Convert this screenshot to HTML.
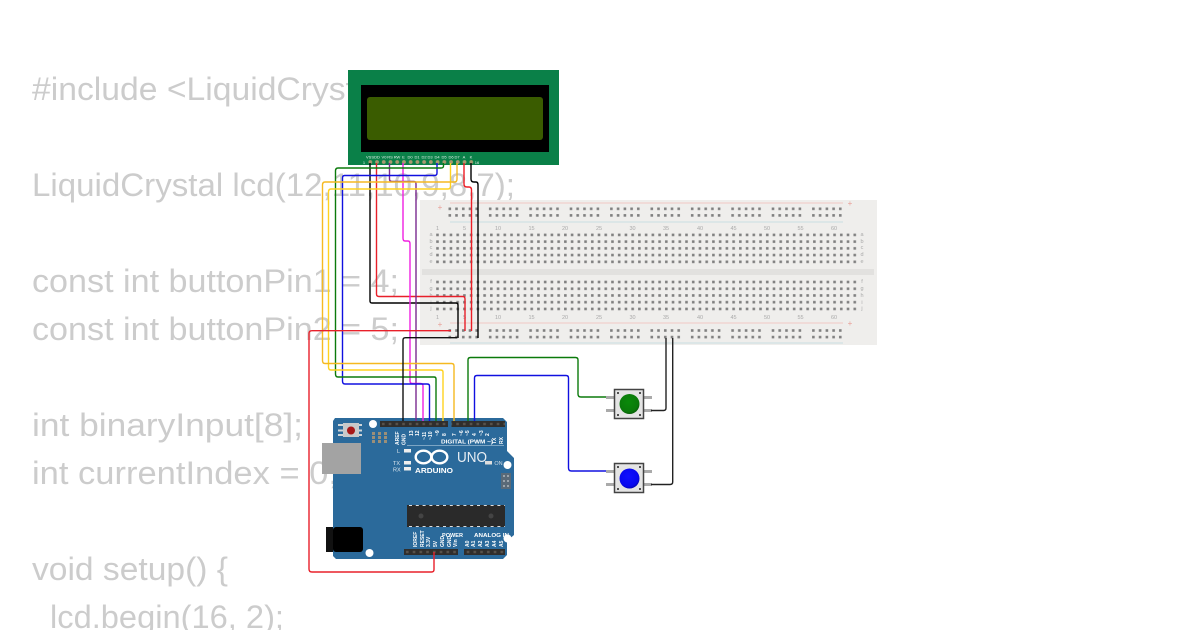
<!DOCTYPE html>
<html><head><meta charset="utf-8"><style>
html,body{margin:0;padding:0;background:#fff;width:1200px;height:630px;overflow:hidden}
svg{display:block}
.c{font-family:"Liberation Sans",sans-serif;font-size:32px;fill:#cccccc}
.t{font-family:"Liberation Sans",sans-serif;fill:#fff;font-weight:bold}
.bl{font-family:"Liberation Sans",sans-serif;font-size:5.5px;fill:#a9a9a9;text-anchor:middle}
.lp{font-family:"Liberation Sans",sans-serif;font-size:4px;fill:#e8f2ec;text-anchor:middle}
path.w{fill:none;stroke-width:1.4;stroke-linejoin:round}
</style></head><body>
<svg width="1200" height="630" viewBox="0 0 1200 630" xmlns="http://www.w3.org/2000/svg">
<defs>
<pattern id="grid" x="434.7" y="232" width="6.73" height="6.73" patternUnits="userSpaceOnUse"><rect x="1.5" y="1.6" width="2.6" height="2.6" fill="#808080"/></pattern>
<pattern id="rail" x="448.5" y="206.5" width="40.4" height="6.6" patternUnits="userSpaceOnUse">
<rect x="0" y="1" width="2.6" height="2.6" fill="#808080"/><rect x="6.7" y="1" width="2.6" height="2.6" fill="#808080"/><rect x="13.5" y="1" width="2.6" height="2.6" fill="#808080"/><rect x="20.2" y="1" width="2.6" height="2.6" fill="#808080"/><rect x="26.9" y="1" width="2.6" height="2.6" fill="#808080"/></pattern>
<pattern id="rail2" x="448.5" y="328.2" width="40.4" height="6.6" patternUnits="userSpaceOnUse">
<rect x="0" y="1" width="2.6" height="2.6" fill="#808080"/><rect x="6.7" y="1" width="2.6" height="2.6" fill="#808080"/><rect x="13.5" y="1" width="2.6" height="2.6" fill="#808080"/><rect x="20.2" y="1" width="2.6" height="2.6" fill="#808080"/><rect x="26.9" y="1" width="2.6" height="2.6" fill="#808080"/></pattern>
<pattern id="hdr" x="380" y="421" width="6.75" height="6" patternUnits="userSpaceOnUse"><rect width="6.75" height="6" fill="#302e2c"/><rect x="2" y="1.8" width="2.6" height="2.4" fill="#57524c"/></pattern>
<pattern id="hdr2" x="404" y="549" width="6.75" height="6" patternUnits="userSpaceOnUse"><rect width="6.75" height="6" fill="#302e2c"/><rect x="2" y="1.8" width="2.6" height="2.4" fill="#57524c"/></pattern>
<pattern id="pins" x="367" y="159" width="6.73" height="6" patternUnits="userSpaceOnUse"><circle cx="3.3" cy="3" r="1.9" fill="#a89a70"/></pattern>
<radialGradient id="gb" cx=".45" cy=".4" r=".65"><stop offset="0" stop-color="#0a8a0a"/><stop offset=".75" stop-color="#0a7a0a"/><stop offset="1" stop-color="#065206"/></radialGradient>
<radialGradient id="bb" cx=".45" cy=".4" r=".65"><stop offset="0" stop-color="#1010ff"/><stop offset=".75" stop-color="#0808ee"/><stop offset="1" stop-color="#0404a0"/></radialGradient>
</defs>

<!-- code text -->
<text class="c" x="32" y="100" textLength="397" lengthAdjust="spacingAndGlyphs">#include &lt;LiquidCrystal.h&gt;</text>
<text class="c" x="32" y="196" textLength="483" lengthAdjust="spacingAndGlyphs">LiquidCrystal lcd(12,11,10,9,8,7);</text>
<text class="c" x="32" y="292" textLength="367" lengthAdjust="spacingAndGlyphs">const int buttonPin1 = 4;</text>
<text class="c" x="32" y="340" textLength="367" lengthAdjust="spacingAndGlyphs">const int buttonPin2 = 5;</text>
<text class="c" x="32" y="436" textLength="271" lengthAdjust="spacingAndGlyphs">int binaryInput[8];</text>
<text class="c" x="32" y="484" textLength="306" lengthAdjust="spacingAndGlyphs">int currentIndex = 0;</text>
<text class="c" x="32" y="580" textLength="196" lengthAdjust="spacingAndGlyphs">void setup() {</text>
<text class="c" x="50" y="628" textLength="234" lengthAdjust="spacingAndGlyphs">lcd.begin(16, 2);</text>

<!-- breadboard -->
<rect x="420" y="200" width="457" height="145" fill="#efeeec"/>
<rect x="422" y="269" width="452" height="6" fill="#e2e1df"/>
<line x1="450" y1="203" x2="843" y2="203" stroke="#f0c8c4" stroke-width="1"/>
<line x1="450" y1="222" x2="843" y2="222" stroke="#c8dde2" stroke-width="1"/>
<line x1="450" y1="323" x2="843" y2="323" stroke="#f0c8c4" stroke-width="1"/>
<line x1="450" y1="343" x2="843" y2="343" stroke="#c8dde2" stroke-width="1"/>
<rect x="448.5" y="206.5" width="396" height="13.2" fill="url(#rail)"/>
<rect x="448.5" y="328.2" width="396" height="13.2" fill="url(#rail2)"/>
<rect x="434.7" y="232" width="424" height="33.6" fill="url(#grid)"/>
<rect x="434.7" y="279" width="424" height="33.6" fill="url(#grid)"/>
<g class="bl">
<text x="437.5" y="230">1</text><text x="464.5" y="230">5</text><text x="498" y="230">10</text><text x="531.5" y="230">15</text><text x="565" y="230">20</text><text x="599" y="230">25</text><text x="632.5" y="230">30</text><text x="666" y="230">35</text><text x="700" y="230">40</text><text x="733.5" y="230">45</text><text x="767" y="230">50</text><text x="800.5" y="230">55</text><text x="834" y="230">60</text>
<text x="437.5" y="319">1</text><text x="464.5" y="319">5</text><text x="498" y="319">10</text><text x="531.5" y="319">15</text><text x="565" y="319">20</text><text x="599" y="319">25</text><text x="632.5" y="319">30</text><text x="666" y="319">35</text><text x="700" y="319">40</text><text x="733.5" y="319">45</text><text x="767" y="319">50</text><text x="800.5" y="319">55</text><text x="834" y="319">60</text>
<text x="431" y="236">a</text><text x="431" y="243">b</text><text x="431" y="249">c</text><text x="431" y="256">d</text><text x="431" y="263">e</text>
<text x="431" y="283">f</text><text x="431" y="290">g</text><text x="431" y="297">h</text><text x="431" y="304">i</text><text x="431" y="310">j</text>
<text x="862" y="236">a</text><text x="862" y="243">b</text><text x="862" y="249">c</text><text x="862" y="256">d</text><text x="862" y="263">e</text>
<text x="862" y="283">f</text><text x="862" y="290">g</text><text x="862" y="297">h</text><text x="862" y="304">i</text><text x="862" y="310">j</text>
</g>
<g font-family="Liberation Sans,sans-serif" font-size="8" fill="#e8a098" text-anchor="middle">
<text x="440" y="210">+</text><text x="850" y="206">+</text><text x="440" y="327">+</text><text x="850" y="326">+</text>
</g>

<!-- LCD -->
<rect x="348" y="70" width="211" height="95" fill="#0a8048"/>
<rect x="361" y="85" width="188" height="67" fill="#000"/>
<rect x="367" y="97" width="176" height="43" rx="3" fill="#3a5c00"/>
<rect x="367" y="159" width="108" height="6" fill="url(#pins)"/>
<g class="lp">
<text x="370" y="158.500">VSS</text><text x="377" y="158.500">DD</text><text x="384" y="158.500">V0</text><text x="390" y="158.500">RS</text><text x="397" y="158.500">RW</text><text x="403.500" y="158.500">E</text><text x="410" y="158.500">D0</text><text x="417" y="158.500">D1</text><text x="424" y="158.500">D2</text><text x="430" y="158.500">D3</text><text x="437" y="158.500">D4</text><text x="444" y="158.500">D5</text><text x="451" y="158.500">D6</text><text x="457" y="158.500">D7</text><text x="464" y="158.500">A</text><text x="471" y="158.500">K</text>
<text x="364" y="164">1</text><text x="477" y="164">16</text>
</g>

<!-- Arduino -->
<path d="M335 418H503L507 422V451L514 458V535L507 541V555L503 559H336L333 556V421Z" fill="#2b6a9b"/>
<circle cx="373" cy="424" r="4" fill="#fff"/>
<circle cx="369.500" cy="553" r="4" fill="#fff"/>
<circle cx="507.500" cy="465" r="4" fill="#fff"/>
<circle cx="507.500" cy="538.500" r="4" fill="#fff"/>
<rect x="322" y="443" width="39" height="31" fill="#a3a3a3"/>
<rect x="326" y="527" width="7" height="25" fill="#111"/><rect x="333" y="527" width="30" height="25" rx="3" fill="#000"/>
<rect x="338" y="424" width="24" height="2" fill="#cfd5d8"/><rect x="338" y="429.500" width="24" height="2" fill="#cfd5d8"/><rect x="338" y="434" width="24" height="2" fill="#cfd5d8"/>
<rect x="343" y="423" width="16" height="14" fill="#c9c9c9"/>
<circle cx="351" cy="430.500" r="4" fill="#a81818"/>
<g fill="#9c8f78"><rect x="372" y="432" width="3" height="3"/><rect x="378" y="432" width="3" height="3"/><rect x="384" y="432" width="3" height="3"/><rect x="372" y="436" width="3" height="3"/><rect x="378" y="436" width="3" height="3"/><rect x="384" y="436" width="3" height="3"/><rect x="372" y="440" width="3" height="3"/><rect x="378" y="440" width="3" height="3"/><rect x="384" y="440" width="3" height="3"/></g>
<rect x="380" y="421" width="68" height="6" fill="url(#hdr)"/><rect x="451.500" y="421" width="53.500" height="6" fill="url(#hdr)"/>
<rect x="404" y="549" width="54" height="6" fill="url(#hdr2)"/><rect x="464" y="549" width="41" height="6" fill="url(#hdr2)"/>
<rect x="501" y="473" width="10" height="16" fill="#5a6a78"/>
<g fill="#9aa4ac"><rect x="503" y="475" width="2" height="2"/><rect x="507" y="475" width="2" height="2"/><rect x="503" y="480" width="2" height="2"/><rect x="507" y="480" width="2" height="2"/><rect x="503" y="485" width="2" height="2"/><rect x="507" y="485" width="2" height="2"/></g>
<rect x="407" y="505" width="98" height="22" fill="#2a2a2a"/>
<circle cx="421" cy="516" r="2.500" fill="#444"/><circle cx="491" cy="516" r="2.500" fill="#444"/>
<line x1="409" y1="505.500" x2="505" y2="505.500" stroke="#ddd" stroke-dasharray="3 3.800"/>
<line x1="409" y1="526.500" x2="505" y2="526.500" stroke="#ddd" stroke-dasharray="3 3.800"/>
<line x1="407" y1="445.500" x2="504" y2="445.500" stroke="#cfe0ec" stroke-width=".5"/>
<rect x="404" y="449" width="7" height="3.500" fill="#eee"/>
<rect x="404" y="461" width="7" height="3.500" fill="#eee"/><rect x="404" y="467" width="7" height="3.500" fill="#eee"/>
<rect x="485" y="461" width="7" height="3.500" fill="#ddd"/>
<g fill="none" stroke="#fff" stroke-width="2.400"><ellipse cx="423.500" cy="457" rx="7.800" ry="6.300"/><ellipse cx="439.500" cy="457" rx="7.800" ry="6.300"/></g>
<text class="t" x="415" y="473" font-size="7.500" textLength="38" lengthAdjust="spacingAndGlyphs">ARDUINO</text>
<text x="457" y="462" font-family="Liberation Sans,sans-serif" font-size="15" fill="#e8eef4" textLength="30" lengthAdjust="spacingAndGlyphs">UNO</text>
<text class="t" x="441" y="443.500" font-size="5.500" textLength="52" lengthAdjust="spacingAndGlyphs">DIGITAL (PWM ~)</text>
<text x="498.500" y="465" font-family="Liberation Sans,sans-serif" font-size="5.500" fill="#cfdbe6" text-anchor="middle">ON</text>
<g font-family="Liberation Sans,sans-serif" font-size="5.500" fill="#dfe8ef">
<text x="397" y="453">L</text><text x="393" y="465">TX</text><text x="393" y="471.500">RX</text></g>
<text class="t" x="442" y="537" font-size="5.500" textLength="21" lengthAdjust="spacingAndGlyphs">POWER</text><text class="t" x="474" y="537" font-size="5.500" textLength="35" lengthAdjust="spacingAndGlyphs">ANALOG IN</text>
<g class="t" font-size="5" font-weight="normal">
<text transform="translate(399 445) rotate(-90)">AREF</text><text transform="translate(405.500 445) rotate(-90)">GND</text>
<text transform="translate(413 436) rotate(-90)">13</text><text transform="translate(419 436) rotate(-90)">12</text><text transform="translate(426 440) rotate(-90)">~11</text><text transform="translate(432 440) rotate(-90)">~10</text><text transform="translate(439 436) rotate(-90)">~9</text><text transform="translate(446 436) rotate(-90)">8</text>
<text transform="translate(456 436) rotate(-90)">7</text><text transform="translate(463 436) rotate(-90)">~6</text><text transform="translate(469 436) rotate(-90)">~5</text><text transform="translate(476 436) rotate(-90)">4</text><text transform="translate(483 436) rotate(-90)">~3</text><text transform="translate(489 436) rotate(-90)">2</text><text transform="translate(496 444) rotate(-90)">TX</text><text transform="translate(503 444) rotate(-90)">RX</text>
<text transform="translate(417 547) rotate(-90)">IOREF</text><text transform="translate(424 547) rotate(-90)">RESET</text><text transform="translate(430 547) rotate(-90)">3.3V</text><text transform="translate(437 547) rotate(-90)">5V</text><text transform="translate(444 547) rotate(-90)">GND</text><text transform="translate(451 547) rotate(-90)">GND</text><text transform="translate(457 547) rotate(-90)">Vin</text>
<text transform="translate(469 547) rotate(-90)">A0</text><text transform="translate(475 547) rotate(-90)">A1</text><text transform="translate(482 547) rotate(-90)">A2</text><text transform="translate(489 547) rotate(-90)">A3</text><text transform="translate(496 547) rotate(-90)">A4</text><text transform="translate(503 547) rotate(-90)">A5</text>
</g>

<!-- buttons -->
<g>
<rect x="606" y="396" width="8" height="3" fill="#aaa"/><rect x="606" y="409" width="8" height="3" fill="#aaa"/><rect x="644" y="396" width="8" height="3" fill="#aaa"/><rect x="644" y="409" width="8" height="3" fill="#aaa"/>
<rect x="614.500" y="389.500" width="29" height="29" fill="#e4e4e4" stroke="#444" stroke-width="1.500"/>
<circle cx="629.500" cy="404" r="10" fill="url(#gb)"/>
<circle cx="618" cy="393" r="1" fill="#222"/><circle cx="640" cy="393" r="1" fill="#222"/><circle cx="618" cy="415" r="1" fill="#222"/><circle cx="640" cy="415" r="1" fill="#222"/>
<rect x="606" y="470" width="8" height="3" fill="#aaa"/><rect x="606" y="483" width="8" height="3" fill="#aaa"/><rect x="644" y="470" width="8" height="3" fill="#aaa"/><rect x="644" y="483" width="8" height="3" fill="#aaa"/>
<rect x="614.500" y="463.500" width="29" height="29" fill="#e4e4e4" stroke="#444" stroke-width="1.500"/>
<circle cx="629.500" cy="478.500" r="10" fill="url(#bb)"/>
<circle cx="618" cy="467" r="1" fill="#222"/><circle cx="640" cy="467" r="1" fill="#222"/><circle cx="618" cy="489" r="1" fill="#222"/><circle cx="640" cy="489" r="1" fill="#222"/>
</g>

<!-- wires -->
<path class="w" stroke="#000" d="M370 163V301Q370 303 372 303H456Q458 303 458 305V338"/>
<path class="w" stroke="#e8202a" d="M376.500 163V294Q376.500 296.500 379 296.500H463Q465 296.500 465 299V331"/>
<path class="w" stroke="#ee1c24" d="M464 163V184Q464 187 467 187H469Q471.500 187 471.500 190V331"/>
<path class="w" stroke="#000" d="M471 163V179Q471 182 474 182H476Q478 182 478 185V338"/>
<path class="w" stroke="#7b2a90" d="M389.500 163V179Q389.500 181.500 392 181.500H414Q416 181.500 416 184V421"/>
<path class="w" stroke="#f020e0" d="M403 163V238Q403 241 405 241H408Q410 241 410 244V381Q410 383.500 412.500 383.500H420.500Q423 383.500 423 386V421"/>
<path class="w" stroke="#1010e0" d="M437 163V173Q437 175.500 434.500 175.500H344.500Q342.500 175.500 342.500 178V381Q342.500 384 345 384H427Q429.500 384 429.500 386V421"/>
<path class="w" stroke="#0b7a0b" d="M443.500 163V166Q443.500 168 441 168H338Q335.500 168 335.500 171V374Q335.500 377 338 377H434Q436 377 436 379V421"/>
<path class="w" stroke="#ffd21e" d="M450.500 163V186Q450.500 189 448 189H331Q328.500 189 328.500 192V367Q328.500 370 331 370H440.500Q443 370 443 372V421"/>
<path class="w" stroke="#f5b921" d="M457 163V179Q457 182 454.500 182H325Q322.500 182 322.500 185V360.500Q322.500 363.500 325 363.500H451.500Q454 363.500 454 366V421"/>
<path class="w" stroke="#111" d="M457 337.700H405.500Q403 337.700 403 340V421"/>
<path class="w" stroke="#e8202a" d="M451 330.700H312Q309 330.700 309 333.500V569Q309 572 312 572H431.500Q434 572 434 569.500V552"/>
<path class="w" stroke="#0b7a0b" d="M468 421V360Q468 357.500 470.500 357.500H575.500Q578 357.500 578 360V394Q578 397 581 397H606"/>
<path class="w" stroke="#1010e0" d="M474.500 421V378Q474.500 375.500 477 375.500H566Q568.500 375.500 568.500 378V468Q568.500 471 571.500 471H606"/>
<path class="w" stroke="#222" d="M651 410.500H663.500Q666 410.500 666 408V338"/>
<path class="w" stroke="#222" d="M651 484.500H670Q672.700 484.500 672.700 482V338"/>
</svg>
</body></html>
